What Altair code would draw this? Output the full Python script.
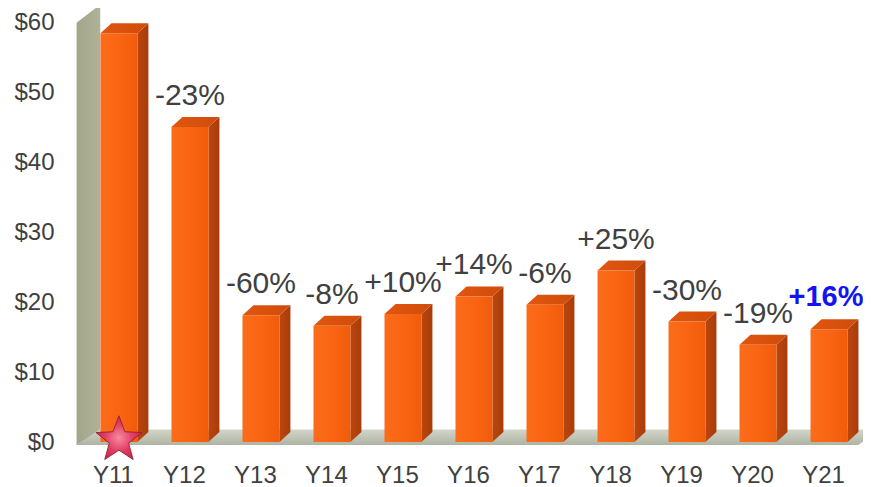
import json
import altair as alt
import pandas as pd

# ---- data ----
years = ["Y11", "Y12", "Y13", "Y14", "Y15", "Y16", "Y17", "Y18", "Y19", "Y20", "Y21"]
values = [58.4, 45.0, 18.1, 16.6, 18.3, 20.8, 19.6, 24.5, 17.2, 13.9, 16.1]
changes = ["", "-23%", "-60%", "-8%", "+10%", "+14%", "-6%", "+25%", "-30%", "-19%", "+16%"]
highlight = ["Y21"]
star_year = "Y11"
y_ticks = [0, 10, 20, 30, 40, 50, 60]

# ---- 3D geometry (in category / dollar units) ----
HALF = 0.26       # half of bar front width
DX = 0.155        # bar depth, x
DY = 1.43         # bar depth, y
WDX = 0.324       # wall / floor depth, x
WDY = 2.2         # wall / floor depth, y
WALL_X = -0.592
FLOOR_Y = -0.43
WALL_TOP = 59.9
FLOOR_RIGHT = 10.41

idx = list(range(len(years)))
front = pd.DataFrame({
    "i": idx, "year": years, "value": values, "change": changes,
    "x0": [i - HALF for i in idx], "x1": [i + HALF for i in idx],
    "base": [0.0] * len(idx),
})
front["emph"] = front["year"].isin(highlight)

side_rows, top_rows = [], []
for i, v in zip(idx, values):
    side_rows.append({"i": i, "x": i + HALF, "y": 0.0, "y2": v})
    side_rows.append({"i": i, "x": i + HALF + DX, "y": DY, "y2": v + DY})
    top_rows.append({"i": i, "y": v, "x": i - HALF, "x2": i + HALF})
    top_rows.append({"i": i, "y": v + DY, "x": i - HALF + DX, "x2": i + HALF + DX})
side = pd.DataFrame(side_rows)
top = pd.DataFrame(top_rows)

wall = pd.DataFrame({
    "x": [WALL_X, WALL_X + WDX],
    "y": [FLOOR_Y, FLOOR_Y + WDY],
    "y2": [WALL_TOP, WALL_TOP + WDY + 0.3],
})
floor = pd.DataFrame({
    "y": [FLOOR_Y, FLOOR_Y + WDY],
    "x": [WALL_X, WALL_X + WDX],
    "x2": [FLOOR_RIGHT, FLOOR_RIGHT + WDX],
})
star = pd.DataFrame({"i": [years.index(star_year)], "y": [0.0]})

# ---- scales / axes ----
xs = alt.Scale(domain=[-0.83, 10.479], nice=False, zero=False)
ys = alt.Scale(domain=[-3, 62], nice=False, zero=False)
FONT = "Liberation Sans"
x_axis = alt.Axis(
    values=idx, labelExpr=f"{json.dumps(years)}[datum.value]",
    labelOffset=-6, labelPadding=19, labelBaseline="alphabetic",
    labelFontSize=24, labelColor="#404040", labelFont=FONT,
    domain=False, ticks=False, tickSize=0, grid=False,
    labelFlush=False, labelOverlap=False, title=None,
)
y_axis = alt.Axis(
    values=y_ticks, labelExpr="'$' + datum.value", labelPadding=6,
    labelFontSize=24, labelColor="#404040", labelFont=FONT,
    domain=False, ticks=False, tickSize=0, grid=False,
    labelFlush=False, labelOverlap=False, title=None,
)


def X(f):
    return alt.X(f, scale=xs, axis=x_axis, title=None)


def Y(f):
    return alt.Y(f, scale=ys, axis=y_axis, title=None)


def lin(c0, c1, c2=None, horizontal=True):
    stops = [alt.GradientStop(color=c0, offset=0)]
    if c2 is not None:
        stops.append(alt.GradientStop(color=c1, offset=0.5))
        stops.append(alt.GradientStop(color=c2, offset=1))
    else:
        stops.append(alt.GradientStop(color=c1, offset=1))
    if horizontal:
        return alt.Gradient(gradient="linear", stops=stops, x1=0, x2=1, y1=0, y2=0)
    return alt.Gradient(gradient="linear", stops=stops, x1=0, x2=0, y1=0, y2=1)


wall_layer = alt.Chart(wall).mark_area(
    fill=lin("#A3A68A", "#B0B298"), stroke="#9C9E84", strokeWidth=0.5
).encode(x=X("x:Q"), y=Y("y:Q"), y2="y2:Q")

floor_layer = alt.Chart(floor).mark_area(
    orient="horizontal", fill=lin("#D2D6CA", "#AEB3A3", horizontal=False)
).encode(y=Y("y:Q"), x=X("x:Q"), x2="x2:Q")

side_layer = alt.Chart(side).mark_area(
    fill=lin("#BC460E", "#A83C0A")
).encode(x=X("x:Q"), y=Y("y:Q"), y2="y2:Q", detail="i:N")

top_layer = alt.Chart(top).mark_area(
    orient="horizontal", fill=lin("#E0560F", "#D04C0B")
).encode(y=Y("y:Q"), x=X("x:Q"), x2="x2:Q", detail="i:N")

front_layer = alt.Chart(front).mark_rect(
    fill=lin("#FB6C1A", "#F96512", "#F05C0C")
).encode(x=X("x0:Q"), x2="x1:Q", y=Y("value:Q"), y2="base:Q")

label_layer = alt.Chart(front).transform_filter(
    "!datum.emph"
).mark_text(
    dy=-22, baseline="alphabetic", align="center", fontSize=30, font=FONT, color="#404040"
).encode(x=X("i:Q"), y=Y("value:Q"), text="change:N")

emph_layer = alt.Chart(front).transform_filter(
    "datum.emph"
).mark_text(
    dy=-23, dx=-3, baseline="alphabetic", align="center", fontSize=29, font=FONT,
    fontWeight="bold", color="#1414F0"
).encode(x=X("i:Q"), y=Y("value:Q"), text="change:N")

STAR = ("M0,-1L0.248,-0.341L0.951,-0.309L0.401,0.130L0.588,0.809L0,0.42"
        "L-0.588,0.809L-0.401,0.130L-0.951,-0.309L-0.248,-0.341Z")
star_fill = alt.Gradient(
    gradient="radial",
    stops=[alt.GradientStop(color="#F98AA0", offset=0),
           alt.GradientStop(color="#E03E62", offset=0.5),
           alt.GradientStop(color="#B8203F", offset=1)],
    x1=0.5, y1=0.5, x2=0.5, y2=0.5, r1=0, r2=0.6,
)
star_layer = alt.Chart(star).mark_point(
    shape=STAR, size=2340, filled=True, fill=star_fill, stroke="#8E1632",
    strokeWidth=0.8, opacity=1, yOffset=-2
).encode(x=X("i:Q"), y=Y("y:Q"))

chart = alt.layer(
    wall_layer, floor_layer, side_layer, top_layer, front_layer,
    label_layer, emph_layer, star_layer
).properties(
    width=803, height=455,
    autosize=alt.AutoSizeParams(type="none"),
    padding={"left": 52, "top": 0, "right": 0, "bottom": 24},
    background="white",
).configure_view(strokeWidth=0)

chart.save("out.html", embed_options={"renderer": "svg", "actions": False})
